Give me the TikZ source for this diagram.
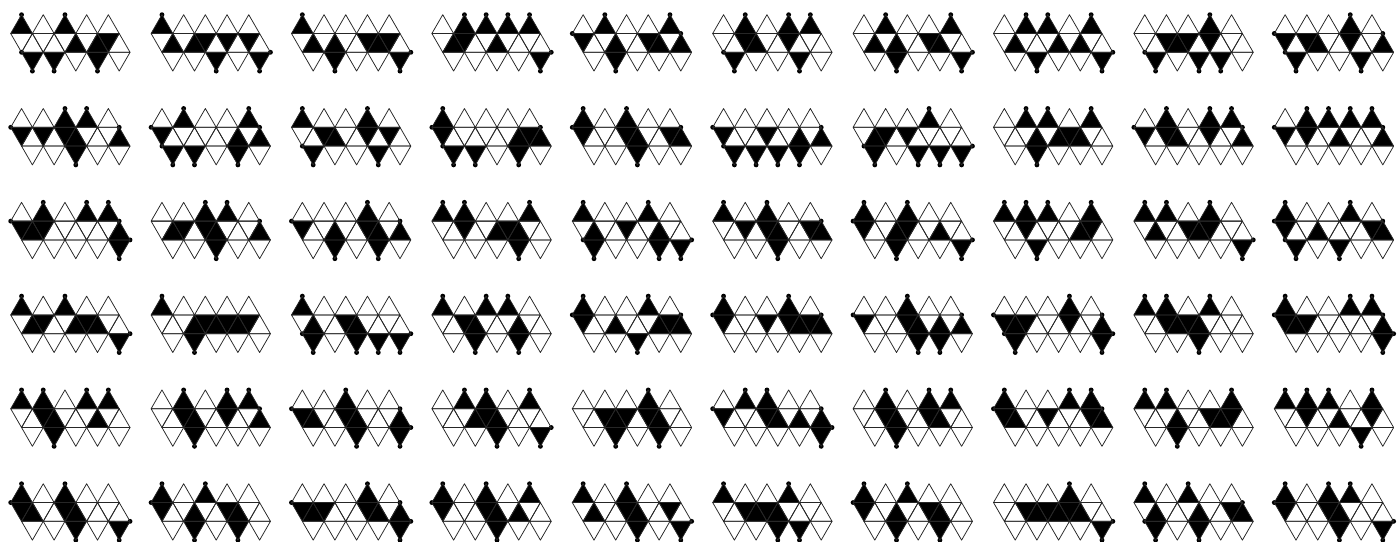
\documentclass[tikz,border=0pt]{standalone}
\usetikzlibrary{calc}

\tikzset{
  face/.style={fill=black},
  edge/.style={draw=black!85, line width=0.5pt, line join=round},
  vdot/.style={fill=black}
}
\newcommand{\hh}{0.866}
\newcommand{\dotr}{1.6pt}
% faces: top (t), middle down (d), middle up (u), bottom (b)
\newcommand{\nett}[1]{\fill[face] (#1,0) -- ++(1,0) -- ++(-0.5,\hh) -- cycle;
  \fill[vdot] (#1+0.5,\hh) circle (\dotr);}
\newcommand{\netd}[1]{\fill[face] (#1,0) -- ++(1,0) -- ++(-0.5,-\hh) -- cycle;
  \ifnum#1=0 \fill[vdot] (0,0) circle (\dotr);\fi}
\newcommand{\netu}[1]{\fill[face] (#1+0.5,-\hh) -- ++(1,0) -- ++(-0.5,\hh) -- cycle;
  \ifnum#1=4 \fill[vdot] (5,0) circle (\dotr);\fi}
\newcommand{\netb}[1]{\fill[face] (#1+0.5,-\hh) -- ++(1,0) -- ++(-0.5,-\hh) -- cycle;
  \fill[vdot] (#1+1,-2*\hh) circle (\dotr);
  \ifnum#1=0 \fill[vdot] (0.5,-\hh) circle (\dotr);\fi
  \ifnum#1=4 \fill[vdot] (5.5,-\hh) circle (\dotr);\fi}
\newcommand{\netgrid}{%
  \foreach \k in {0,...,4}{
    \draw[edge] (\k,0) -- ++(1,0) -- ++(-0.5,\hh) -- cycle;
    \draw[edge] (\k,0) -- ++(1,0) -- ++(-0.5,-\hh) -- cycle;
    \draw[edge] (\k+0.5,-\hh) -- ++(1,0) -- ++(-0.5,\hh) -- cycle;
    \draw[edge] (\k+0.5,-\hh) -- ++(1,0) -- ++(-0.5,-\hh) -- cycle;
  }}
% one net: column, row, black faces
\newcommand{\icosanet}[3]{%
  \begin{scope}[shift={(0.493+6.47*#1,-1.544-4.323*#2)}]
    \foreach \f/\k in {#3}{\csname net\f\endcsname{\k}}
    \netgrid
  \end{scope}}

\begin{document}
\begin{tikzpicture}[x=0.5cm, y=0.5cm]
  \useasboundingbox (0,0) rectangle (64.47,-24.977);

  % row 1
  \icosanet{0}{0}{t/0,t/2,u/2,u/3,d/4,b/0,b/1,b/3}
  \icosanet{1}{0}{t/0,u/0,u/1,d/2,d/3,d/4,b/2,b/4}
  \icosanet{2}{0}{t/0,u/0,u/1,b/1,d/3,u/3,d/4,b/4}
  \icosanet{3}{0}{t/1,t/2,t/3,t/4,u/0,d/1,u/2,b/4}
  \icosanet{4}{0}{t/1,t/4,d/0,u/1,b/1,d/3,u/3,u/4}
  \icosanet{5}{0}{t/1,d/1,u/1,t/3,d/3,t/4,b/0,b/3}
  \icosanet{6}{0}{t/1,t/4,u/0,u/1,b/1,d/3,u/3,b/4}
  \icosanet{7}{0}{t/1,t/2,t/4,u/0,b/1,u/2,u/3,b/4}
  \icosanet{8}{0}{d/1,u/1,d/2,t/3,d/3,b/0,b/2,b/3}
  \icosanet{9}{0}{t/3,d/0,d/1,u/1,d/3,u/4,b/0,b/3}

  % row 2
  \icosanet{0}{1}{t/2,t/3,d/0,d/1,d/2,u/2,b/2,u/4}
  \icosanet{1}{1}{t/1,t/4,d/0,b/0,b/1,b/3,u/3,u/4}
  \icosanet{2}{1}{t/0,t/3,d/1,u/1,d/3,d/4,b/0,b/3}
  \icosanet{3}{1}{t/0,d/0,u/3,d/4,u/4,b/0,b/1,b/3}
  \icosanet{4}{1}{t/0,d/0,t/2,d/2,u/2,b/2,d/4,u/4}
  \icosanet{5}{1}{d/0,d/2,u/3,u/4,b/0,b/1,b/2,b/3}
  \icosanet{6}{1}{u/0,d/1,b/0,d/2,t/3,b/2,b/3,b/4}
  \icosanet{7}{1}{t/1,t/2,t/4,u/1,b/1,u/2,d/3,u/3}
  \icosanet{8}{1}{t/1,t/3,t/4,d/0,d/1,u/1,d/3,u/4}
  \icosanet{9}{1}{t/1,t/2,t/3,t/4,d/0,d/1,u/2,u/4}

  % row 3
  \icosanet{0}{2}{d/0,u/0,d/1,t/1,t/3,t/4,u/4,b/4}
  \icosanet{1}{2}{u/0,d/1,t/2,d/2,u/2,b/2,t/3,u/4}
  \icosanet{2}{2}{d/0,u/1,b/1,t/3,d/3,u/3,b/3,u/4}
  \icosanet{3}{2}{t/0,t/1,d/1,u/2,d/3,u/3,b/3,t/4}
  \icosanet{4}{2}{t/0,u/0,b/0,d/2,t/3,u/3,b/3,b/4}
  \icosanet{5}{2}{t/0,d/1,t/2,d/2,u/2,b/2,d/4,u/4}
  \icosanet{6}{2}{t/0,t/2,d/0,u/1,d/2,b/1,u/3,b/4}
  \icosanet{7}{2}{t/0,t/1,t/2,d/1,b/1,u/3,d/4,t/4}
  \icosanet{8}{2}{t/0,t/1,u/0,d/2,u/2,t/3,d/3,b/4}
  \icosanet{9}{2}{t/0,d/0,b/0,u/1,b/2,t/3,d/4,u/4}

  % row 4
  \icosanet{0}{3}{t/0,t/2,u/0,d/1,u/2,d/3,u/3,b/4}
  \icosanet{1}{3}{t/0,u/1,b/1,d/2,u/2,d/3,u/3,d/4}
  \icosanet{2}{3}{t/0,u/0,b/0,d/2,u/2,b/2,b/3,b/4}
  \icosanet{3}{3}{t/0,t/2,t/3,d/1,u/1,b/1,b/3,u/3}
  \icosanet{4}{3}{t/0,d/0,u/1,b/2,u/3,d/4,u/4,t/3}
  \icosanet{5}{3}{t/0,d/0,d/2,t/3,d/3,u/3,d/4,u/4}
  \icosanet{6}{3}{d/0,t/2,d/2,u/2,b/2,u/3,b/3,u/4}
  \icosanet{7}{3}{d/0,u/0,d/1,b/0,t/3,d/3,u/4,b/4}
  \icosanet{8}{3}{t/0,t/1,d/1,u/1,d/2,u/2,b/2,t/3}
  \icosanet{9}{3}{t/0,d/0,u/0,d/1,t/3,t/4,u/4,b/4}

  % row 5
  \icosanet{0}{4}{t/0,d/1,t/1,u/1,b/1,t/3,t/4,u/3}
  \icosanet{1}{4}{t/1,d/1,u/1,b/1,t/3,d/3,t/4,u/4}
  \icosanet{2}{4}{d/0,u/0,t/2,d/2,u/2,b/2,u/4,b/4}
  \icosanet{3}{4}{t/1,u/1,t/2,d/2,u/2,b/2,t/4,b/4}
  \icosanet{4}{4}{d/1,u/1,d/2,t/3,d/3,u/3,b/3,b/1}
  \icosanet{5}{4}{d/0,t/1,t/2,d/2,u/2,u/3,b/4,u/4}
  \icosanet{6}{4}{t/1,d/1,u/1,b/1,t/3,d/3,u/3,t/4}
  \icosanet{7}{4}{t/0,d/0,u/0,d/2,t/3,t/4,d/4,u/4}
  \icosanet{8}{4}{t/0,t/1,u/1,b/1,d/3,u/3,d/4,t/4}
  \icosanet{9}{4}{t/0,t/1,t/2,d/1,u/2,t/4,d/4,b/3}

  % row 6
  \icosanet{0}{5}{t/0,t/2,d/0,u/0,d/2,u/2,b/2,b/4}
  \icosanet{1}{5}{t/0,t/2,d/0,u/1,b/1,d/3,u/3,b/3}
  \icosanet{2}{5}{d/0,u/0,d/1,t/3,d/3,u/3,u/4,b/4}
  \icosanet{3}{5}{t/0,d/0,t/2,d/2,u/2,b/2,t/4,u/3}
  \icosanet{4}{5}{t/0,u/0,t/2,d/2,u/2,b/2,d/4,b/4}
  \icosanet{5}{5}{t/0,t/3,d/1,u/1,d/2,u/2,b/2,b/3}
  \icosanet{6}{5}{t/0,t/2,d/0,u/1,b/1,d/3,u/3,b/3}
  \icosanet{7}{5}{d/1,u/1,d/2,u/2,d/3,t/3,u/3,b/4}
  \icosanet{8}{5}{t/0,t/2,u/0,b/0,u/2,b/2,d/4,u/4}
  \icosanet{9}{5}{t/0,d/0,t/2,d/2,u/2,b/2,t/3,b/4}
\end{tikzpicture}
\end{document}
